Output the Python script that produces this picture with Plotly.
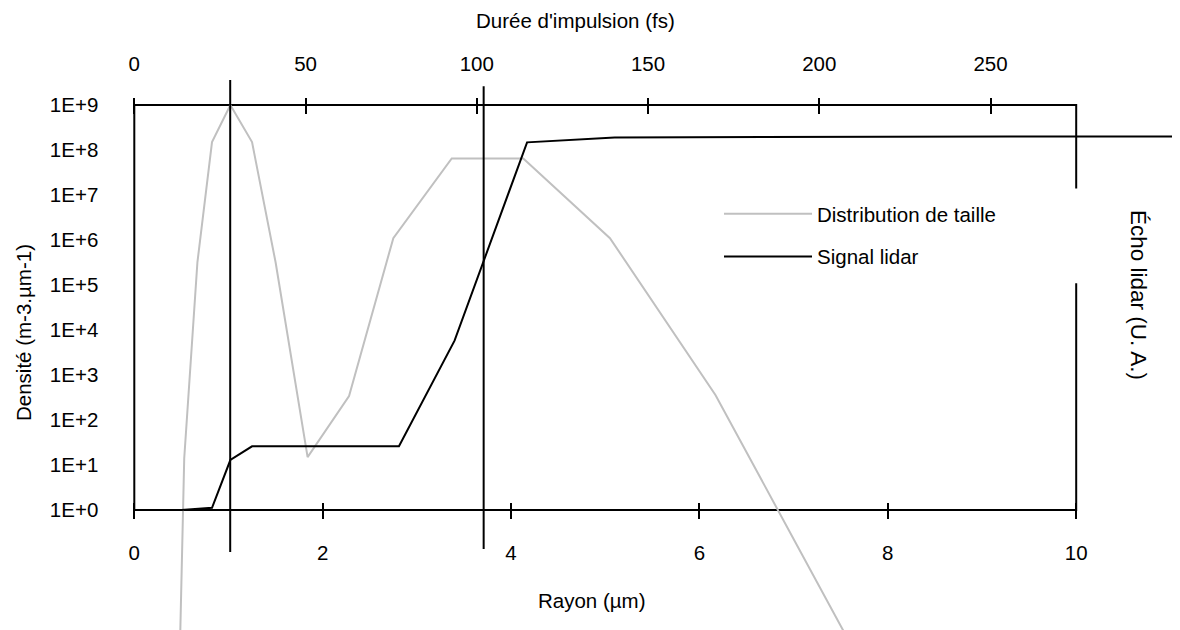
import plotly.graph_objects as go

# Distribution de taille (rayon en µm, densité en m-3.µm-1)
taille_r = [0.485, 0.53, 0.67, 0.825, 1.02, 1.25, 1.50, 1.84, 2.28, 2.75, 3.37, 4.13, 5.05, 6.17, 7.61]
taille_n = [1e-3, 1.4e1, 3.2e5, 1.5e8, 1e9, 1.5e8, 3.2e5, 1.5e1, 3.4e2, 1.1e6, 6.5e7, 6.5e7, 1.1e6, 3.6e2, 1e-3]

# Signal lidar (U. A.)
lidar_r = [0.5, 0.825, 1.02, 1.25, 2.81, 3.40, 4.17, 5.10, 9.30, 12.0]
lidar_s = [1.0, 1.12, 1.29e1, 2.6e1, 2.6e1, 5.8e3, 1.48e8, 1.9e8, 2.0e8, 2.0e8]

# durées d'impulsion repérées (fs) and their extents
pulse_fs = [28, 102]
pulse_top = [3.6e9, 2.6e9]
pulse_bot = [0.117, 0.136]

# frame of the chart (right side interrupted behind the legend)
frame_x = [10, 10, 0, 0, 10, 10]
frame_y = [1.4e7, 1e9, 1e9, 1, 1, 1.1e5]

r_ticks = [0, 2, 4, 6, 8, 10]
fs_ticks = [0, 50, 100, 150, 200, 250]
y_ticks = [10 ** k for k in range(10)]
y_labels = ["1E+%d" % k for k in range(10)]

W, H = 1180, 630
OFF = 8  # page body margin


def px(v):
    return (v - OFF) / W


def py(v):
    return 1 - (v - OFF) / H


x0px, x10px = 134.3 - OFF, 1076.2 - OFF
pxu = (x10px - x0px) / 10.0
xr = [-x0px / pxu, (W - x0px) / pxu]
xr2 = [v * 27.5 for v in xr]
ytop, ybot = 105.0 - OFF, 510.0 - OFF
dec = (ybot - ytop) / 9.0
yr = [-(H - ybot) / dec, 9 + ytop / dec]

FONT = "Liberation Sans, Arial, sans-serif"
FS = 20.5

fig = go.Figure()
fig.add_trace(go.Scatter(x=frame_x, y=frame_y, mode="lines", line=dict(color="black", width=2),
                         showlegend=False, hoverinfo="skip"))
fig.add_trace(go.Scatter(x=taille_r, y=taille_n, mode="lines", name="Distribution de taille",
                         line=dict(color="#C0C0C0", width=2), legendgroup="a"))
fig.add_trace(go.Scatter(x=lidar_r, y=lidar_s, mode="lines", name="Signal lidar",
                         line=dict(color="black", width=2), legendgroup="b"))
for fs, yt, yb in zip(pulse_fs, pulse_top, pulse_bot):
    fig.add_trace(go.Scatter(x=[fs, fs], y=[yt, yb], mode="lines", xaxis="x2",
                             line=dict(color="black", width=2), showlegend=False, hoverinfo="skip"))

fig.update_layout(
    width=W, height=H,
    margin=dict(l=0, r=0, t=0, b=0),
    paper_bgcolor="white", plot_bgcolor="white",
    font=dict(family=FONT, size=FS, color="black"),
    xaxis=dict(range=xr, domain=[0, 1], anchor="free", position=py(519),
               tickvals=r_ticks, ticks="inside", ticklen=16, tickwidth=2, tickcolor="black",
               ticklabelstandoff=19, showgrid=False, zeroline=False, showline=False),
    xaxis2=dict(range=xr2, overlaying="x", side="top", anchor="free", position=py(97),
                tickvals=fs_ticks, ticks="inside", ticklen=16, tickwidth=2, tickcolor="black",
                ticklabelstandoff=22, showgrid=False, zeroline=False, showline=False),
    yaxis=dict(type="log", range=yr, domain=[0, 1], anchor="free", position=x0px / W,
               tickvals=y_ticks, ticktext=y_labels, ticks="", ticklabelstandoff=36,
               showgrid=False, zeroline=False, showline=False),
    legend=dict(x=px(719), y=py(194), xanchor="left", yanchor="top",
                bgcolor="rgba(0,0,0,0)", itemwidth=88, tracegroupgap=13,
                font=dict(family=FONT, size=FS)),
    showlegend=True,
    annotations=[
        dict(text="Durée d'impulsion (fs)", x=px(575), y=py(20), xref="paper", yref="paper",
             xanchor="center", yanchor="middle", showarrow=False),
        dict(text="Rayon (µm)", x=px(592), y=py(600), xref="paper", yref="paper",
             xanchor="center", yanchor="middle", showarrow=False),
        dict(text="Densité (m-3.µm-1)", x=px(23), y=py(333), xref="paper", yref="paper",
             xanchor="center", yanchor="middle", showarrow=False, textangle=-90),
        dict(text="Écho lidar (U. A.)", x=px(1138), y=py(295), xref="paper", yref="paper",
             xanchor="center", yanchor="middle", showarrow=False, textangle=90,
             font=dict(size=22.5)),
    ],
)

fig.write_html("out.html")
